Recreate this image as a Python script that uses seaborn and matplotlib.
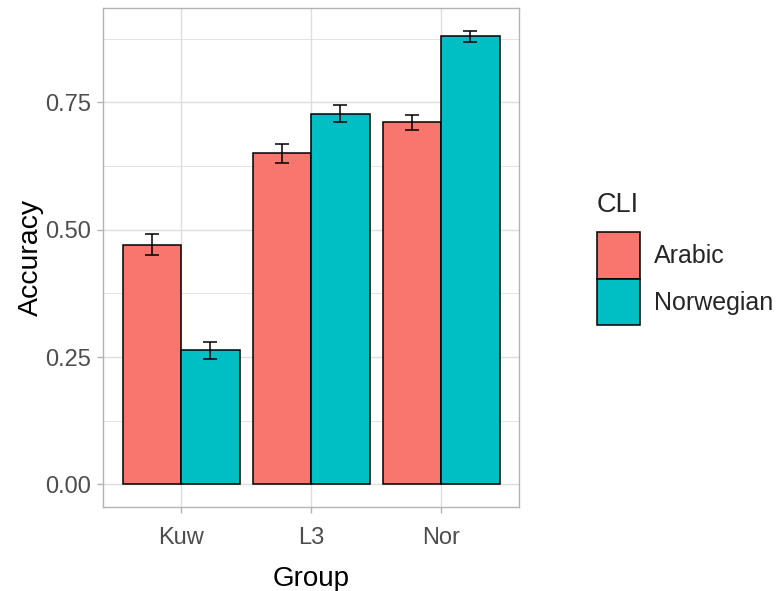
import matplotlib
matplotlib.use("Agg")
import matplotlib.pyplot as plt
from matplotlib.patches import Patch
from matplotlib.ticker import MultipleLocator, FormatStrFormatter
import numpy as np
import pandas as pd
import seaborn as sns

groups = ["Kuw", "L3", "Nor"]
cli_levels = ["Arabic", "Norwegian"]
accuracy_arabic = [0.471, 0.650, 0.711]
accuracy_norwegian = [0.263, 0.728, 0.880]
se_arabic = [0.020, 0.018, 0.015]
se_norwegian = [0.017, 0.017, 0.011]

palette = {"Arabic": "#F8766D", "Norwegian": "#00BFC4"}

df = pd.DataFrame({
    "Group": groups * 2,
    "CLI": ["Arabic"] * 3 + ["Norwegian"] * 3,
    "Accuracy": accuracy_arabic + accuracy_norwegian,
    "se": se_arabic + se_norwegian,
})

sns.set_theme(style="white")
plt.rcParams["font.family"] = ["Liberation Sans", "DejaVu Sans"]

fig = plt.figure(figsize=(7.81, 5.91), dpi=100)
ax = fig.add_axes([0.1319, 0.1421, 0.5327, 0.8444])

sns.barplot(data=df, x="Group", y="Accuracy", hue="CLI", order=groups,
            hue_order=cli_levels, palette=palette, width=0.9, gap=0,
            errorbar=None, edgecolor="black", linewidth=1.1, saturation=1,
            legend=False, ax=ax, zorder=3)

# error bars centred on each dodged bar
for i, level in enumerate(cli_levels):
    sub = df[df["CLI"] == level].set_index("Group").loc[groups]
    xs = np.arange(len(groups)) + (i - 0.5) * 0.45
    ax.errorbar(xs, sub["Accuracy"], yerr=sub["se"], fmt="none",
                ecolor="black", elinewidth=1.1, capsize=4.7, capthick=1.1,
                zorder=4)

ymax = max(max(np.array(accuracy_arabic) + se_arabic),
           max(np.array(accuracy_norwegian) + se_norwegian))
pad = 0.05 * ymax
ax.set_ylim(-pad, ymax + pad)
ax.set_xlim(-0.6, 2.6)

ax.yaxis.set_major_locator(MultipleLocator(0.25))
ax.yaxis.set_minor_locator(MultipleLocator(0.125))
ax.yaxis.set_major_formatter(FormatStrFormatter("%.2f"))

grid_col = "#DEDEDE"
ax.grid(True, which="major", color=grid_col, linewidth=1.0, zorder=0)
ax.grid(True, which="minor", axis="y", color=grid_col, linewidth=0.6, zorder=0)
ax.set_axisbelow(True)
for s in ax.spines.values():
    s.set_visible(True)
    s.set_color("#B3B3B3")
    s.set_linewidth(1.0)

ax.tick_params(axis="both", which="major", length=4.3, width=1.0, color="#B3B3B3",
               labelsize=17, labelcolor="#4D4D4D", direction="out",
               bottom=True, left=True)
ax.tick_params(axis="x", which="major", pad=10)
ax.tick_params(axis="y", which="major", pad=4)
ax.tick_params(axis="y", which="minor", length=0)

ax.set_xlabel("Group", fontsize=20, color="black", labelpad=12)
ax.set_ylabel("Accuracy", fontsize=20.5, color="black", labelpad=1)

handles = [Patch(facecolor=palette[c], edgecolor="black", linewidth=1.1, label=c)
           for c in cli_levels]
leg = fig.legend(handles=handles, title="CLI", loc="upper left",
                 bbox_to_anchor=(0.764, 0.675), frameon=False, fontsize=18,
                 title_fontsize=19.5, handlelength=1.75, handleheight=2.5,
                 labelspacing=0.0, handletextpad=0.55, borderaxespad=0,
                 borderpad=0)
leg._legend_box.align = "left"
leg._legend_box.sep = 10

fig.savefig("out.png", dpi=100)
